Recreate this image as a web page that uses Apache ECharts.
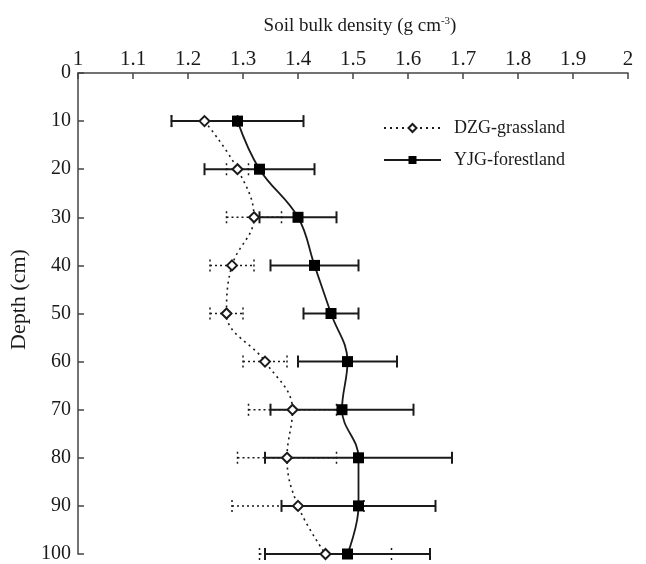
<!DOCTYPE html>
<html>
<head>
<meta charset="utf-8">
<script src="https://cdn.jsdelivr.net/npm/echarts@6/dist/echarts.min.js"></script>
<style>
  html, body { margin: 0; padding: 0; background: #fff; }
  #chart { width: 646px; height: 564px; }
</style>
</head>
<body>
<div id="chart"></div>
<script>
// Soil depth (cm) of each sampling layer
const depths = [10, 20, 30, 40, 50, 60, 70, 80, 90, 100];
// Mean bulk density (g cm-3) and standard deviation, DZG grassland
const dzgMean = [1.23, 1.29, 1.32, 1.28, 1.27, 1.34, 1.39, 1.38, 1.40, 1.45];
const dzgErr  = [0.06, 0.02, 0.05, 0.04, 0.03, 0.04, 0.08, 0.09, 0.12, 0.12];
// Mean bulk density (g cm-3) and standard deviation, YJG forestland
const yjgMean = [1.29, 1.33, 1.40, 1.43, 1.46, 1.49, 1.48, 1.51, 1.51, 1.49];
const yjgErr  = [0.12, 0.10, 0.07, 0.08, 0.05, 0.09, 0.13, 0.17, 0.14, 0.15];
// Axis ticks
const densityTicks = [1, 1.1, 1.2, 1.3, 1.4, 1.5, 1.6, 1.7, 1.8, 1.9, 2];
const depthTicks = [0, 10, 20, 30, 40, 50, 60, 70, 80, 90, 100];

const FONT = '"Liberation Serif", "Times New Roman", serif';
const INK = '#1a1a1a';

function pairs(means) {
  return means.map((m, i) => [m, depths[i]]);
}
function errRows(means, errs) {
  return means.map((m, i) => [m - errs[i], m + errs[i], depths[i]]);
}

// Horizontal error bar with end caps
function errorBar(dash, width) {
  return function (params, api) {
    const lo = api.coord([api.value(0), api.value(2)]);
    const hi = api.coord([api.value(1), api.value(2)]);
    const h = 6;
    const style = { stroke: INK, lineWidth: width, lineDash: dash, fill: null };
    return {
      type: 'group',
      children: [
        { type: 'line', shape: { x1: lo[0], y1: lo[1], x2: hi[0], y2: hi[1] }, style: style },
        { type: 'line', shape: { x1: lo[0], y1: lo[1] - h, x2: lo[0], y2: lo[1] + h }, style: style },
        { type: 'line', shape: { x1: hi[0], y1: hi[1] - h, x2: hi[0], y2: hi[1] + h }, style: style }
      ]
    };
  };
}

const chart = echarts.init(document.getElementById('chart'), null, { renderer: 'canvas' });

chart.setOption({
  animation: false,
  backgroundColor: '#fff',
  textStyle: { fontFamily: FONT, color: INK },
  grid: { left: 78, right: 18, top: 73, bottom: 5, containLabel: false },
  legend: {
    data: ['DZG-grassland', 'YJG-forestland'],
    orient: 'vertical',
    left: 378,
    top: 114,
    itemWidth: 57,
    itemHeight: 10,
    itemGap: 14,
    textStyle: { fontFamily: FONT, fontSize: 18, color: INK, padding: [0, 0, 0, 8] }
  },
  xAxis: {
    type: 'value',
    position: 'top',
    min: densityTicks[0],
    max: densityTicks[densityTicks.length - 1],
    interval: 0.1,
    name: 'Soil bulk density (g cm{sup|-3})',
    nameLocation: 'middle',
    nameGap: 37,
    nameTextStyle: {
      fontFamily: FONT, fontSize: 19, color: INK, padding: [0, 0, 0, 14],
      rich: { sup: { fontFamily: FONT, fontSize: 11, color: INK, verticalAlign: 'top', padding: [0, 0, 9, 0] } }
    },
    axisLine: { show: true, lineStyle: { color: '#444', width: 1.5 } },
    axisTick: { show: true, inside: true, length: 6, lineStyle: { color: '#444', width: 1.5 } },
    axisLabel: { fontFamily: FONT, fontSize: 21, color: INK, margin: 3,
      formatter: v => String(Math.round(v * 10) / 10) },
    splitLine: { show: false }
  },
  yAxis: {
    type: 'value',
    inverse: true,
    min: depthTicks[0],
    max: depthTicks[depthTicks.length - 1],
    interval: 10,
    name: 'Depth (cm)',
    nameLocation: 'middle',
    nameGap: 30,
    nameRotate: 90,
    nameTextStyle: { fontFamily: FONT, fontSize: 22, color: INK, padding: [0, 0, 0, 28] },
    axisLine: { show: true, lineStyle: { color: '#444', width: 1.5 } },
    axisTick: { show: true, inside: true, length: 6, lineStyle: { color: '#444', width: 1.5 } },
    axisLabel: { fontFamily: FONT, fontSize: 20, color: INK, margin: 7 },
    splitLine: { show: false }
  },
  series: [
    {
      name: 'DZG-grassland-sd',
      type: 'custom',
      renderItem: errorBar([2, 3], 1.5),
      data: errRows(dzgMean, dzgErr),
      encode: { x: [0, 1], y: 2 },
      z: 1,
      silent: true
    },
    {
      name: 'YJG-forestland-sd',
      type: 'custom',
      renderItem: errorBar(null, 2),
      data: errRows(yjgMean, yjgErr),
      encode: { x: [0, 1], y: 2 },
      z: 2,
      silent: true
    },
    {
      name: 'DZG-grassland',
      type: 'line',
      data: pairs(dzgMean),
      smooth: 0.4,
      symbol: 'diamond',
      symbolSize: 10,
      lineStyle: { color: INK, width: 1.6, type: [2, 4] },
      itemStyle: { color: '#fff', borderColor: INK, borderWidth: 2 },
      z: 3
    },
    {
      name: 'YJG-forestland',
      type: 'line',
      data: pairs(yjgMean),
      smooth: 0.4,
      symbol: 'rect',
      symbolSize: 11,
      lineStyle: { color: INK, width: 1.8, type: 'solid' },
      itemStyle: { color: '#000', borderColor: '#000', borderWidth: 0 },
      z: 4
    }
  ]
});
</script>
</body>
</html>
